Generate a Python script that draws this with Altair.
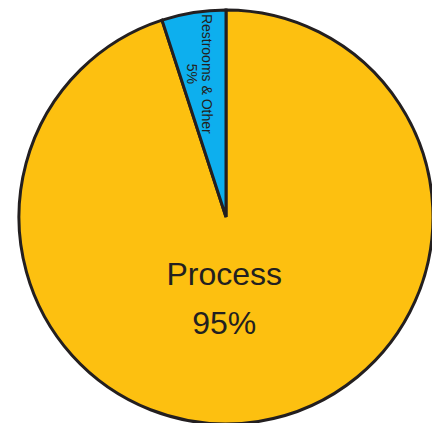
import altair as alt
import pandas as pd

categories = ["Process", "Restrooms & Other"]
shares = [95, 5]
labels = ["Process\n95%", "Restrooms & Other\n5%"]
colors = ["#FDC010", "#0DAFEE"]

df = pd.DataFrame({"category": categories, "share": shares, "label": labels,
                   "order": [0, 1]})

base = alt.Chart(df).encode(
    theta=alt.Theta("share:Q", stack=True),
    order=alt.Order("order:Q"),
    x=alt.value(218),
    y=alt.value(209),
)

pie = base.mark_arc(radius=207, stroke="#231F20", strokeWidth=3).encode(
    color=alt.Color("category:N", scale=alt.Scale(domain=categories, range=colors), legend=None)
)

big = base.mark_text(radius=59, dx=-11, fontSize=32, lineBreak="\n", lineHeight=49,
                     font="Liberation Sans", color="#231F20").encode(
    text=alt.condition(alt.datum.category == "Process", "label:N", alt.value(""))
)

small = base.mark_text(radius=145, dy=-3, angle=90, fontSize=14, lineBreak="\n", lineHeight=15,
                       font="Liberation Sans", color="#231F20").encode(
    text=alt.condition(alt.datum.category == "Restrooms & Other", "label:N", alt.value(""))
)

chart = alt.layer(pie, big, small).properties(
    width=424, height=415, padding=0, autosize="none"
).configure_view(stroke=None)

chart.save("out.html", embed_options={"renderer": "svg", "actions": False})
